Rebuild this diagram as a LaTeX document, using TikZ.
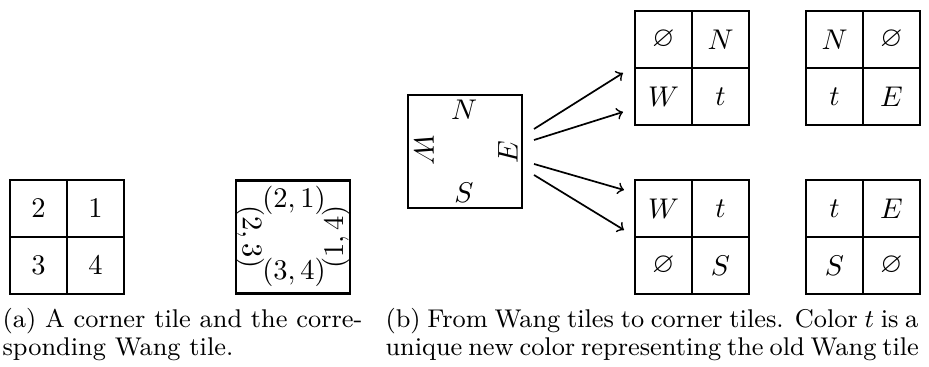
\documentclass[tikz,border=0pt]{standalone}
\usepackage{amssymb}
\usetikzlibrary{positioning}
\begin{document}
\begin{tikzpicture}[x=0.351pt,y=-0.351pt,
  cell/.style={draw,line width=0.95pt,minimum width=20pt,minimum height=20pt,inner sep=0pt,anchor=center},
  wang/.style={draw,line width=0.95pt,minimum width=40pt,minimum height=39.7pt,inner sep=0pt},
  lab/.style={inner sep=0pt},
  conn/.style={->,line width=0.6pt},
  captxt/.style={anchor=base west,inner sep=0pt,font=\small}]
\useasboundingbox (0,0) rectangle (929,367);
% (a) corner tile
\node[cell] (a1) at (38.5,208.5) {$2$};
\node[cell] (a2) at (95.5,208.5) {$1$};
\node[cell] (a3) at (38.5,265.5) {$3$};
\node[cell] (a4) at (95.5,265.5) {$4$};
% (a) Wang tile
\node[wang] (wa) at (293,237) {};
\node[lab] (wan) at (294,200) {$(2,1)$};
\node[lab] (was) at (294,272) {$(3,4)$};
\node[lab,rotate=-90] (waw) at (250,237) {$(2,3)$};
\node[lab,rotate=90] (wae) at (336,237) {$(1,4)$};
% (b) Wang tile
\node[wang] (wb) at (465,151.5) {};
\node[lab] (wbn) at (464,110) {$N$};
\node[lab] (wbs) at (464,193) {$S$};
\node[lab,rotate=-90] (wbw) at (424,150) {$W$};
\node[lab,rotate=90] (wbe) at (508,152) {$E$};
% (b) corner tiles, top left
\node[cell] (t1) at (663.5,39.5) {$\varnothing$};
\node[cell] (t2) at (720.5,39.5) {$N$};
\node[cell] (t3) at (663.5,96.5) {$W$};
\node[cell] (t4) at (720.5,96.5) {$t$};
% top right
\node[cell] (u1) at (834.5,39.5) {$N$};
\node[cell] (u2) at (891.5,39.5) {$\varnothing$};
\node[cell] (u3) at (834.5,96.5) {$t$};
\node[cell] (u4) at (891.5,96.5) {$E$};
% bottom left
\node[cell] (v1) at (663.5,208.5) {$W$};
\node[cell] (v2) at (720.5,208.5) {$t$};
\node[cell] (v3) at (663.5,265.5) {$\varnothing$};
\node[cell] (v4) at (720.5,265.5) {$S$};
% bottom right
\node[cell] (w1) at (834.5,208.5) {$t$};
\node[cell] (w2) at (891.5,208.5) {$E$};
\node[cell] (w3) at (834.5,265.5) {$S$};
\node[cell] (w4) at (891.5,265.5) {$\varnothing$};
% arrows
\coordinate (s1) at (534,129);
\coordinate (s2) at (534,140);
\coordinate (s3) at (534,164);
\coordinate (s4) at (534,175);
\coordinate (e1) at (623,73);
\coordinate (e2) at (623,112);
\coordinate (e3) at (624,190);
\coordinate (e4) at (624,230);
\draw[conn] (s1) -- (e1);
\draw[conn] (s2) -- (e2);
\draw[conn] (s3) -- (e3);
\draw[conn] (s4) -- (e4);
% captions
\node[captxt] (ca1) at (2,328) {(a) A corner tile and the corre-};
\node[captxt] (ca2) at (2,356) {sponding Wang tile.};
\node[captxt] (cb1) at (385,328) {\makebox[187pt][s]{(b) From Wang tiles to corner tiles. Color $t$ is a}};
\node[captxt] (cb2) at (385,356) {\makebox[187pt][s]{unique new color representing the old Wang tile}};
\end{tikzpicture}
\end{document}
